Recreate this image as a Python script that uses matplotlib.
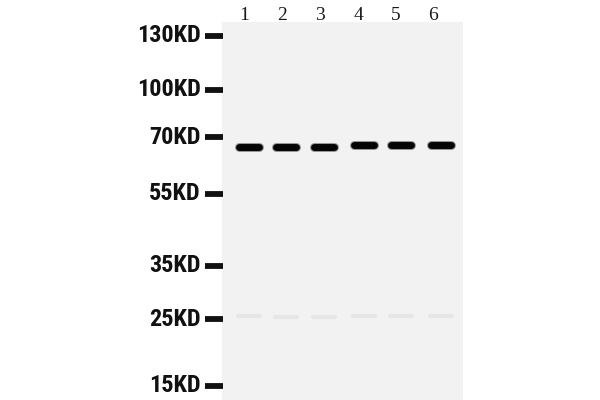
import matplotlib
matplotlib.use("Agg")
import matplotlib.pyplot as plt
from matplotlib.patches import Rectangle
from matplotlib import font_manager

# marker ladder (label, y pixel position on the blot)
marker_labels = ["130KD", "100KD", "70KD", "55KD", "35KD", "25KD", "15KD"]
marker_y = [36, 90, 137, 194, 266, 319, 386]

# lanes
lane_labels = ["1", "2", "3", "4", "5", "6"]
lane_x = [249, 286, 324, 364, 401, 441]
label_x = [244, 282, 320, 358, 396, 433]

# main band at ~68KD, y position per lane
band_y = [147, 146.5, 146.5, 145, 144.5, 144.5]
# faint bands near 25KD
faint_y = [316, 317, 317, 316, 316, 316]

names = {f.name for f in font_manager.fontManager.ttflist}
narrow = [n for n in ["Liberation Sans Narrow", "DejaVu Sans Condensed", "Roboto Condensed"] if n in names]
conds = [f for f in font_manager.fontManager.ttflist
         if f.name == "DejaVu Sans" and f.stretch in ("condensed", 300) and f.weight in ("bold", 700)]

fig = plt.figure(figsize=(6, 4), dpi=100)
ax = fig.add_axes([0, 0, 1, 1])
ax.set_xlim(0, 600)
ax.set_ylim(400, 0)
ax.axis("off")
fig.patch.set_facecolor("white")

# membrane
ax.add_patch(Rectangle((222, 22), 241, 380, facecolor="#f2f2f2", edgecolor="none"))

if narrow:
    mfont = dict(family=narrow + ["DejaVu Sans"])
elif conds:
    mfont = dict(fname=conds[0].fname)
else:
    mfont = dict(family=["DejaVu Sans"], stretch="condensed")

for lab, y in zip(marker_labels, marker_y):
    if "fname" in mfont:
        fp = font_manager.FontProperties(fname=mfont["fname"], size=17.5)
        ax.text(201, y, lab, ha="right", va="center", fontproperties=fp, color="#111111")
    else:
        ax.text(201, y, lab, ha="right", va="center", fontsize=17.5, fontweight="bold",
                color="#111111", **mfont)
    ax.plot([205, 223], [y, y], color="#111111", lw=4.2, solid_capstyle="butt")

for lab, x in zip(lane_labels, label_x):
    ax.text(x, 16, lab, ha="center", va="center", fontsize=14,
            family=["Liberation Serif", "DejaVu Serif"], color="#1a1a1a")

for x, y in zip(lane_x, faint_y):
    ax.plot([x - 11, x + 11], [y, y], color="#e6e6e6", lw=3, solid_capstyle="round")

for x, y in zip(lane_x, band_y):
    ax.plot([x - 10, x + 10], [y, y], color="#2a2a2a", lw=6.5, solid_capstyle="round", alpha=0.45)
    ax.plot([x - 10, x + 10], [y, y], color="#050505", lw=5, solid_capstyle="round")

fig.savefig("out.png", dpi=100)
